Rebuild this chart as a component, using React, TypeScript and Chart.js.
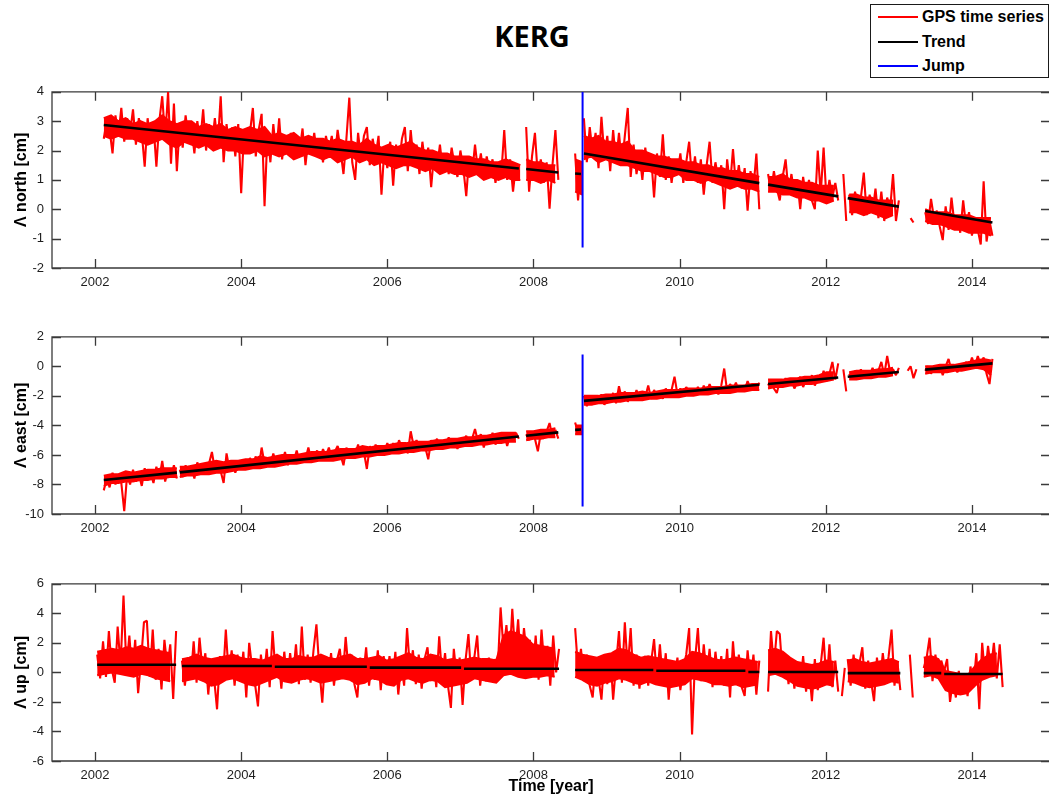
import React, { useEffect, useRef } from "react";
import { Chart, registerables } from "chart.js";

Chart.register(...registerables);

// ---------- shared axis values ----------
const STEP = 0.04; // sampling step of the series (years)
const BAND_STEP = 0.1; // sampling step of the dense-band envelope (years)
const X_MIN = 2001.4116;
const X_MAX = 2015.068;
const X_TICKS = [2002, 2004, 2006, 2008, 2010, 2012, 2014];

// ---------- North component [cm] ----------
const NORTH_2002 = [
  2.4, 3.0, 2.7, 1.9, 3.2, 2.5, 3.45, 2.3, 3.1, 2.6, 3.4, 2.2, 3.1,
  2.6, 1.45, 3.1, 2.3, 2.9, 1.45, 3.0, 3.85, 2.4, 4.0, 1.55, 3.6, 1.3,
  2.9, 2.1, 3.2, 2.4, 2.8, 1.9, 3.0, 2.3, 3.4, 2.0, 2.9, 2.2, 3.1,
  2.2, 3.85, 1.6, 2.9, 2.0, 2.8, 1.8, 2.9, 0.55, 2.7, 1.9, 2.6, 3.45,
  1.8, 2.7, 3.25, 0.1, 2.6, 1.6, 2.9, 1.9, 3.1, 1.7, 2.5, 2.0, 2.6,
  1.7, 2.5, 2.0, 2.75, 1.5, 2.4, 1.9, 2.6, 1.8, 2.3, 1.6, 2.5, 2.0,
  2.5, 1.7, 2.7, 2.0, 1.2, 2.4, 3.8, 1.6, 1.0, 2.6, 1.7, 2.5, 2.8,
  1.5, 2.4, 1.8, 2.5, 0.5, 2.1, 1.4, 2.3, 0.8, 2.2, 1.5, 2.4, 2.8,
  1.3, 2.7, 1.6, 2.2, 1.2, 2.3, 1.5, 2.1, 0.75, 1.9, 1.4, 2.2, 1.3,
  1.9, 1.2, 2.1, 1.5, 1.1, 2.0, 1.4, 0.45, 1.8, 1.2, 2.2, 1.3, 1.9,
  1.1, 1.8, 1.3, 1.7, 0.9, 1.6, 1.2, 2.7, 1.0, 1.7, 0.6, 1.5, 1.2,
];
const NORTH_2008A = [2.8, 0.6, 1.8, 2.6, 1.1, 1.7, 0.9, 1.6, 0.02, 1.5, 2.7, 1.0];
const NORTH_2008B = [1.9, 0.3, 1.5];
const NORTH_2008C = [
  3.1, 1.6, 2.8, 1.9, 2.6, 1.4, 3.15, 1.8, 2.5, 1.3, 2.7, 1.6, 2.6,
  1.5, 2.5, 3.45, 1.1, 2.2, 1.2, 1.9, 1.0, 2.1, 1.3, 1.8, 0.4, 1.9,
  1.1, 2.55, 1.0, 1.8, 0.9, 1.7, 1.2, 1.9, 0.9, 1.6, 2.3, 1.0, 1.8,
  0.9, 1.7, 0.5, 1.5, 2.3, 0.9, 1.6, 1.0, 1.5, 0.0, 1.7, 0.8, 2.05,
  0.8, 1.5, 0.7, 1.4, -0.05, 1.3, 0.7, 1.9, 0.0,
];
const NORTH_2011 = [
  1.2, 0.6, 1.3, 0.7, 0.3, 1.1, 1.7, 0.6, 1.2, 0.5, 1.0, 0.0, 1.1,
  0.4, 1.0, 0.3, 0.0, 2.0, 0.5, 2.1, 0.3, 1.0, 0.4, 0.9, 0.3,
];
const NORTH_2012A = [1.2, -0.4];
const NORTH_2012B = [0.5, -0.2, 0.6, 0.0, 0.4, 1.25, -0.2, 0.5, -0.1, 0.7, -0.3, 0.6, -0.4, 0.4, 0.0, 1.2, -0.4, 0.3];
const NORTH_2013A = [-0.3, -0.45];
const NORTH_2013B = [
  -0.1, -0.5, 0.35, -0.3, -0.05, -0.6, -1.05, 0.1, -0.7, 0.4, -0.5, -0.2,
  -0.8, 0.3, -0.6, -0.1, -0.9, -0.3, -0.7, -1.2, 0.95, -1.1, -0.4, -0.9,
];
const NORTH_STARTS = [2002.12, 2007.9, 2008.57, 2008.69, 2011.21, 2012.24, 2012.32, 2013.16, 2013.36];
const NORTH_VALUES = [NORTH_2002, NORTH_2008A, NORTH_2008B, NORTH_2008C, NORTH_2011, NORTH_2012A, NORTH_2012B, NORTH_2013A, NORTH_2013B];
// dense core of the daily band (upper / lower edge)
const NORTH_BAND_STARTS = [2002.12, 2007.9, 2008.57, 2008.69, 2011.21, 2012.32, 2013.36];
const NORTH_BAND_HI = [
  [3.1, 3.2, 3.0, 3.1, 2.9, 3.0, 2.9, 3.0, 3.2, 3.0,
   2.9, 3.0, 3.0, 2.8, 2.9, 2.8, 2.9, 2.7, 2.8, 2.7,
   2.8, 2.7, 2.8, 2.5, 2.6, 2.5, 2.6, 2.4, 2.5, 2.4,
   2.4, 2.3, 2.4, 2.3, 2.3, 2.2, 2.4, 2.2, 2.1, 2.2,
   2.1, 2.2, 2.3, 2.1, 2.0, 2.0, 1.9, 1.9, 1.8, 1.8,
   1.8, 1.7, 1.7, 1.6, 1.6, 1.7, 1.6, 1.5],
  [1.7, 1.6, 1.6, 1.5, 1.5],
  [1.7, 1.6],
  [2.5, 2.4, 2.5, 2.3, 2.3, 2.2, 2.3, 2.0, 2.0, 1.9, 1.8, 1.8, 1.7, 1.7, 1.6,
   1.6, 1.5, 1.5, 1.4, 1.4, 1.3, 1.3, 1.2, 1.2, 1.1],
  [1.1, 1.1, 1.2, 1.0, 1.0, 0.9, 0.9, 0.8, 0.8, 0.8],
  [0.5, 0.5, 0.4, 0.4, 0.3, 0.3, 0.3],
  [0.0, -0.1, -0.1, -0.1, -0.2, -0.2, -0.2, -0.3, -0.3, -0.3],
];
const NORTH_BAND_LO = [
  [2.5, 2.4, 2.5, 2.4, 2.4, 2.3, 2.2, 2.3, 2.4, 2.2,
   2.1, 2.3, 2.2, 2.1, 2.2, 2.0, 2.1, 2.0, 2.0, 1.9,
   1.9, 2.0, 1.8, 1.9, 1.8, 1.9, 1.7, 1.8, 1.9, 1.8,
   1.7, 1.8, 1.6, 1.7, 1.8, 1.6, 1.7, 1.5, 1.6, 1.5,
   1.4, 1.5, 1.5, 1.4, 1.3, 1.4, 1.2, 1.3, 1.2, 1.2,
   1.1, 1.2, 1.0, 1.1, 1.0, 1.1, 1.0, 1.0],
  [1.0, 1.0, 0.9, 1.0, 0.9],
  [0.6, 0.5],
  [1.7, 1.8, 1.6, 1.7, 1.6, 1.5, 1.5, 1.4, 1.3, 1.3, 1.2, 1.1, 1.1, 1.2, 1.0,
   1.0, 0.9, 1.0, 0.9, 0.8, 0.7, 0.8, 0.7, 0.7, 0.6],
  [0.6, 0.6, 0.5, 0.5, 0.4, 0.4, 0.3, 0.3, 0.2, 0.3],
  [-0.1, -0.1, -0.2, -0.1, -0.2, -0.3, -0.2],
  [-0.4, -0.5, -0.5, -0.6, -0.7, -0.7, -0.8, -0.8, -0.8, -0.9],
];
// trend segments: [x0, y0, x1, y1]
const NORTH_TREND = [
  [2002.12, 2.87, 2007.8, 1.39],
  [2007.9, 1.37, 2008.34, 1.25],
  [2008.57, 1.22, 2008.65, 1.2],
  [2008.69, 1.9, 2011.09, 0.89],
  [2011.21, 0.84, 2012.17, 0.44],
  [2012.3, 0.38, 2013.0, 0.09],
  [2013.36, -0.06, 2014.28, -0.45],
];
const NORTH_JUMP = [2008.672, -1.3, 4.0];

// ---------- East component [cm] ----------
const EAST_2002 = [
  -8.4, -7.6, -8.2, -7.2, -8.0, -7.4, -7.9, -9.8, -7.3, -8.0, -7.0, -7.8, -7.3,
  -8.1, -6.9, -7.7, -7.2, -7.9, -6.8, -7.6, -6.4, -7.8, -7.0, -7.5, -6.7, -7.6,
];
const EAST_2003 = [
  -7.0, -7.5, -6.7, -7.4, -6.8, -7.6, -6.5, -7.3, -6.9, -7.2, -6.6, -5.8, -7.0,
  -6.6, -7.1, -7.9, -5.9, -7.0, -6.5, -7.2, -6.6, -6.9,
  -6.4, -7.0, -6.2, -6.8, -6.1, -6.9, -5.5, -6.6, -6.2, -6.7, -5.9, -6.6, -6.1,
  -6.5, -5.8, -6.7, -6.0, -6.4, -5.7, -6.5, -6.0, -6.3, -5.5, -6.4, -6.0,
  -5.7, -6.3, -5.6, -6.1, -5.5, -6.2, -5.8, -5.4, -6.0, -6.7, -5.5, -6.1, -5.6,
  -6.0, -5.3, -6.1, -5.8, -6.95, -5.4, -6.0, -5.3, -5.9, -5.5, -5.9, -5.2,
  -5.7, -5.2, -5.8, -5.0, -5.5, -5.2, -5.9, -4.4, -5.4, -5.0, -5.6, -5.1, -5.5,
  -6.3, -5.0, -5.5, -4.9, -5.6, -5.1, -5.4, -4.8, -5.5, -5.0, -5.6, -4.9,
  -5.2, -4.7, -5.4, -4.9, -4.25, -5.1, -4.6, -5.5, -4.8, -5.2, -4.5, -5.3, -4.7,
  -5.0, -4.6, -5.4, -4.7, -5.1, -4.5, -4.9,
];
const EAST_2008A = [-4.6, -5.0, -4.4, -4.9, -5.76, -4.5, -4.9, -4.4, -3.84, -4.8, -4.3, -4.9];
const EAST_2008B = [-3.8, -4.5, -4.1];
const EAST_2008C = [
  -2.0, -2.7, -2.2, -2.6, -2.1, -2.5, -1.9, -2.6, -2.2, -2.4, -1.8, -2.5, -1.35,
  -2.3, -1.7, -2.4, -1.9, -2.2, -1.6, -2.3, -1.8, -2.1, -1.3, -2.2, -1.6, -2.0,
  -1.7, -2.2, -1.5, -2.0, -1.6, -0.7, -1.9, -1.5, -2.0, -1.4, -1.8, -1.5, -1.9,
  -1.4, -1.9, -1.3, -1.8, -1.2, -1.7, -1.4, -1.9, -1.3, -0.15, -1.7, -1.2, -1.6,
  -1.1, -1.7, -1.3, -1.6, -1.0, -1.5, -1.2, -1.6, -1.1,
];
const EAST_2011 = [
  -1.3, -0.9, -1.5, -1.8, -1.0, -1.4, -0.8, -1.3, -0.9, -1.5, -1.1, -0.7, -1.4,
  -0.9, -1.2, -0.6, -1.3, -0.8, -1.1, -0.3, -1.0, -0.5, 0.3, -0.9, 0.2,
];
const EAST_2012A = [-0.2, -1.7];
const EAST_2012B = [-0.5, -0.9, -0.3, -0.7, -0.2, -0.8, -0.4, -0.6, -0.1, -0.7, -0.3, 0.3, -0.6, 0.7, -0.4, -0.2, -0.6, -0.1];
const EAST_2013A = [-0.3, 0.0, -0.8, -0.2];
const EAST_2013B = [
  -0.3, 0.0, -0.5, -0.1, -0.4, 0.1, -0.6, 0.0, 0.5, -0.3, 0.1, -0.4,
  0.0, -0.2, 0.3, -0.1, 0.6, 0.0, 0.7, 0.1, 0.6, -0.5, -1.2, 0.5,
];
const EAST_STARTS = [2002.12, 2003.16, 2007.9, 2008.57, 2008.69, 2011.21, 2012.24, 2012.32, 2013.12, 2013.36];
const EAST_VALUES = [EAST_2002, EAST_2003, EAST_2008A, EAST_2008B, EAST_2008C, EAST_2011, EAST_2012A, EAST_2012B, EAST_2013A, EAST_2013B];
const EAST_BAND_STARTS = [2002.12, 2003.16, 2007.9, 2008.57, 2008.69, 2011.21, 2012.32, 2013.36];
const EAST_BAND_HI = [
  [-7.4, -7.3, -7.3, -7.1, -7.2, -7.1, -7.0, -7.0, -6.9, -6.9, -6.9],
  [-6.8, -6.8, -6.7, -6.6, -6.5, -6.4, -6.5, -6.4, -6.4, -6.3,
   -6.3, -6.1, -6.2, -6.1, -6.0, -6.0, -6.0, -5.9, -5.8, -5.8,
   -5.8, -5.7, -5.6, -5.6, -5.6, -5.4, -5.5, -5.4, -5.4, -5.3,
   -5.2, -5.2, -5.1, -5.1, -5.1, -5.0, -5.0, -4.9, -4.9, -4.8,
   -4.8, -4.7, -4.7, -4.6, -4.5, -4.5, -4.5],
  [-4.4, -4.4, -4.3, -4.3, -4.2],
  [-4.0, -4.0],
  [-2.0, -2.0, -2.0, -1.9, -1.9, -1.8, -1.8, -1.8, -1.7, -1.8, -1.7, -1.6, -1.6,
   -1.6, -1.5, -1.5, -1.5, -1.4, -1.4, -1.4, -1.3, -1.3, -1.3, -1.2, -1.2],
  [-0.9, -0.9, -0.9, -0.8, -0.8, -0.7, -0.7, -0.6, -0.4, -0.4],
  [-0.4, -0.3, -0.3, -0.3, -0.2, -0.2, -0.1],
  [0.0, 0.0, 0.1, 0.1, 0.1, 0.2, 0.3, 0.4, 0.5, 0.4],
];
const EAST_BAND_LO = [
  [-8.1, -7.9, -7.9, -7.8, -7.8, -7.7, -7.7, -7.6, -7.6, -7.5, -7.5],
  [-7.5, -7.4, -7.4, -7.3, -7.3, -7.2, -7.2, -7.1, -7.0, -7.0,
   -6.9, -6.9, -6.8, -6.8, -6.7, -6.6, -6.6, -6.5, -6.5, -6.4,
   -6.4, -6.4, -6.3, -6.2, -6.2, -6.1, -6.1, -6.0, -6.0, -5.9,
   -5.9, -5.8, -5.8, -5.7, -5.7, -5.6, -5.6, -5.5, -5.5, -5.4,
   -5.4, -5.3, -5.3, -5.2, -5.2, -5.1, -5.1],
  [-5.0, -4.9, -4.9, -4.8, -4.8],
  [-4.6, -4.6],
  [-2.6, -2.6, -2.5, -2.5, -2.4, -2.4, -2.3, -2.3, -2.3, -2.2, -2.2, -2.1, -2.1,
   -2.1, -2.0, -2.0, -1.9, -1.9, -1.8, -1.8, -1.8, -1.7, -1.7, -1.6, -1.6],
  [-1.5, -1.4, -1.4, -1.3, -1.3, -1.2, -1.2, -1.1, -1.0, -0.9],
  [-0.9, -0.9, -0.8, -0.8, -0.7, -0.7, -0.6],
  [-0.5, -0.4, -0.4, -0.4, -0.3, -0.3, -0.2, -0.1, -0.2, -0.6],
];
const EAST_TREND = [
  [2002.12, -7.7, 2003.12, -7.2],
  [2003.16, -7.18, 2007.8, -4.75],
  [2007.9, -4.7, 2008.34, -4.47],
  [2008.57, -4.3, 2008.65, -4.28],
  [2008.69, -2.34, 2011.09, -1.25],
  [2011.21, -1.2, 2012.17, -0.76],
  [2012.3, -0.7, 2013.0, -0.38],
  [2013.36, -0.22, 2014.28, 0.2],
];
const EAST_JUMP = [2008.672, -9.5, 0.8];

// ---------- Up component [cm] ----------
const UP_2002 = [
  1.2, -0.4, 2.1, -0.3, 2.8, 0.2, -0.7, 3.1, 0.4, 5.2, 0.3, 2.5, -0.2, 2.2,
  -1.4, 0.8, 3.4, 3.5, -0.3, 2.9, -0.5, 1.6, -1.15, 2.2, 0.3, 1.9, -1.8, 2.8,
];
const UP_2003 = [
  0.8, -0.9, 1.0, -0.5, 2.1, -0.7, 2.35, 0.2, 1.3, -1.5, 0.9, -0.4, -2.5, 1.1,
  -0.6, 2.9, -0.2, 1.5, -0.9, 1.2, -0.5, 1.4,
  -1.7, 2.0, 0.3, -0.8, -2.3, 1.2, -0.5, 1.6, -1.0, 2.8, 0.0, 1.1, -1.1, 1.4,
  -0.6, 1.3, -0.3, 1.9, -0.8, 3.1, -0.5, 1.2, -0.7, 1.5,
  3.25, 0.2, -2.05, 1.0, -0.6, 1.3, -0.9, 0.8, 1.6, -0.4, 2.4, 0.1, 1.2, -0.8,
  -1.7, 1.0, -0.3, 1.7, -0.9, 0.9, -0.5, 1.5, -1.2, 1.1, -0.4,
  1.1, -0.7, 1.4, -1.5, 0.6, -0.9, 3.0, 0.2, 1.5, -0.8, 1.2, -1.1, 0.9, 1.7,
  -0.6, 1.0, -1.0, 2.45, -0.3, 1.3, -0.9, -2.4, 1.6, -0.4, 1.0,
  -2.2, 0.8, 2.6, -0.5, 1.0, 2.5, -0.9, 0.7, -0.6, 1.0, -0.4, 0.9, 0.1, 4.4,
  1.5, 3.2, 0.6, 4.3, 1.2, 3.6, 0.3, 3.0, 1.0, 2.2, -0.2,
  2.5, -0.5, 2.9, 0.3, 1.8, -0.9, 2.5, 0.0, 1.6,
];
const UP_2008 = [
  3.0, 0.2, 1.6, -0.6, 1.2, -0.9, -1.7, 0.8, -0.4, -1.85, 1.0,
  -0.8, 1.3, -1.85, 0.5, 2.8, -0.7, 3.4, 0.2, 3.0, -0.9, 1.2, -1.1, 0.9,
  1.1, -0.9, 0.7, 2.25, -0.5, 1.9, -0.7, 1.3, -1.85, 0.6, -0.4, 1.0, -1.2,
  0.3, 1.2, 3.0, -4.2, 0.8, 3.0, -0.6, 1.9, -0.3, 1.6, -1.0, 1.4, -0.4,
  1.1, -0.9, 1.6, -1.7, 2.1, -0.5, 1.2, -1.0, -1.6, 1.5, -0.6, 1.2, -1.5, 0.8,
];
const UP_2011 = [
  -1.3, 2.8, 0.4, 2.8, 2.6, -0.2, 1.2, -0.8, 0.9, -1.1, 0.6, -0.9, 1.1,
  -1.3, 0.3, -1.95, 0.9, -1.2, 0.5, 2.35, -0.8, 1.9, -1.0, 0.8, -1.3,
];
const UP_2012A = [-1.6, 0.3];
const UP_2012B = [0.9, -0.9, 1.2, -0.5, 0.6, 1.7, -1.1, 0.8, -0.6, -1.95, 1.0, -0.8, 1.3, -0.4, 1.1, 2.9, -0.9, 0.7, -1.2];
const UP_2013A = [1.2, -1.7];
const UP_2013B = [
  0.3, 1.0, 2.35, -0.6, 1.2, -0.3, 0.8, 0.1, 0.9, -2.0, -0.5, -1.7, 0.1, -1.4,
  -0.2, -1.6, 0.4, -1.0, 1.3, -2.5, 2.0, -0.3, 1.8, 0.2, 2.0, -0.4, 1.9, -1.0,
];
const UP_STARTS = [2002.03, 2003.19, 2008.57, 2011.21, 2012.22, 2012.3, 2013.15, 2013.34];
const UP_VALUES = [UP_2002, UP_2003, UP_2008, UP_2011, UP_2012A, UP_2012B, UP_2013A, UP_2013B];
const UP_BAND_STARTS = [2002.03, 2003.19, 2008.57, 2011.21, 2012.3, 2013.34];
const UP_BAND_HI = [
  [1.4, 1.5, 1.6, 1.5, 1.7, 1.6, 1.8, 1.6, 1.5, 1.4, 1.3],
  [0.9, 1.0, 1.2, 1.0, 0.9, 1.0, 1.1, 1.2, 1.0, 0.9,
   0.9, 0.8, 1.0, 1.2, 0.9, 0.9, 1.1, 1.0, 1.0, 1.2,
   1.0, 0.9, 1.1, 1.2, 0.9, 0.9, 1.0, 1.1, 0.8, 0.9,
   1.1, 1.3, 1.0, 0.9, 1.2, 1.1, 0.8, 0.9, 0.8, 0.9,
   1.0, 0.9, 0.9, 0.8, 2.5, 2.8, 2.6, 2.4, 1.9, 1.8,
   1.7, 1.6],
  [1.4, 1.2, 1.1, 1.0, 1.2, 1.3, 1.6, 1.5, 1.2, 1.0,
   1.1, 1.0, 0.9, 0.8, 0.7, 0.9, 1.4, 1.3, 1.1, 0.9,
   0.8, 0.9, 1.0, 0.9, 0.8, 0.7],
  [1.5, 1.6, 1.4, 1.0, 0.7, 0.6, 0.5, 0.6, 0.8, 0.7],
  [0.8, 0.9, 0.7, 0.6, 0.7, 0.8, 0.9, 0.7],
  [1.0, 1.1, 0.9, 0.1, 0.0, -0.1, -0.2, 0.4, 0.9, 1.2, 1.3],
];
const UP_BAND_LO = [
  [-0.2, -0.1, 0.0, -0.1, -0.2, -0.3, -0.1, -0.2, -0.4, -0.5, -0.6],
  [-0.6, -0.5, -0.4, -0.6, -0.9, -0.8, -0.5, -0.4, -0.6, -0.8,
   -0.9, -0.7, -0.5, -0.3, -0.6, -0.7, -0.5, -0.4, -0.5, -0.7,
   -0.6, -0.5, -0.4, -0.5, -0.8, -0.7, -0.4, -0.5, -0.8, -0.9,
   -0.5, -0.4, -0.6, -0.7, -0.5, -0.6, -1.0, -0.9, -0.8, -0.7,
   -0.4, -0.5, -0.6, -0.7, -0.2, -0.1, -0.3, -0.4, -0.3, -0.3,
   -0.2, -0.3],
  [-0.3, -0.5, -0.8, -0.9, -0.7, -0.6, -0.4, -0.5, -0.7, -0.8,
   -0.6, -0.8, -0.9, -1.0, -0.9, -0.8, -0.4, -0.5, -0.6, -0.8,
   -0.8, -0.9, -0.8, -1.0, -0.9, -0.8],
  [-0.2, -0.1, -0.3, -0.6, -0.9, -1.0, -1.1, -1.0, -0.8, -0.9],
  [-0.6, -0.7, -0.9, -1.0, -0.9, -0.8, -0.6, -0.7],
  [-0.3, -0.2, -0.4, -1.2, -1.4, -1.5, -1.4, -0.9, -0.5, -0.3, -0.2],
];
const UP_TREND = [
  [2002.03, 0.52, 2003.11, 0.52],
  [2003.19, 0.43, 2004.42, 0.43],
  [2004.46, 0.38, 2005.72, 0.38],
  [2005.76, 0.32, 2007.01, 0.32],
  [2007.05, 0.25, 2008.35, 0.25],
  [2008.57, 0.16, 2009.64, 0.16],
  [2009.68, 0.11, 2010.9, 0.11],
  [2010.94, 0.03, 2011.09, 0.03],
  [2011.21, 0.03, 2012.17, 0.03],
  [2012.3, -0.05, 2013.02, -0.05],
  [2013.34, -0.05, 2013.58, -0.05],
  [2013.62, -0.11, 2014.42, -0.11],
];

// ---------- styling ----------
const AXIS_COLOR = "#3a3a3a";
const TEXT_COLOR = "#1e1e1e";
const RED = "rgb(255,0,0)";
const TICK_FONT = { family: "'Liberation Sans', Arial, sans-serif", size: 13 };
const LABEL_FONT = { family: "'Liberation Sans', Arial, sans-serif", size: 16, weight: "bold" as const };
const CANVAS_W = 1060;

type Pt = { x: number; y: number | null };

function buildSeries(starts: number[], values: number[][], step: number): Pt[] {
  const pts: Pt[] = [];
  starts.forEach((s, k) => {
    const vals = values[k];
    vals.forEach((v, i) => pts.push({ x: s + i * step, y: v }));
    pts.push({ x: s + (vals.length - 0.5) * step, y: null });
  });
  return pts;
}

function buildTrend(segs: number[][]): Pt[] {
  const pts: Pt[] = [];
  segs.forEach(([x0, y0, x1, y1]) => {
    pts.push({ x: x0, y: y0 }, { x: x1, y: y1 }, { x: x1 + 0.01, y: null });
  });
  return pts;
}

const boxPlugin = {
  id: "matlabBox",
  beforeDatasetsDraw(chart: any) {
    const { ctx, chartArea } = chart;
    const { left, right, top, bottom } = chartArea;
    const xs = chart.scales.x;
    const ys = chart.scales.y;
    const TL = 9;
    ctx.save();
    ctx.strokeStyle = AXIS_COLOR;
    ctx.lineWidth = 1.3;
    ctx.beginPath();
    ctx.rect(left, top, right - left, bottom - top);
    xs.ticks.forEach((t: any) => {
      const px = Math.round(xs.getPixelForValue(t.value)) + 0.5;
      ctx.moveTo(px, bottom);
      ctx.lineTo(px, bottom - TL);
      ctx.moveTo(px, top);
      ctx.lineTo(px, top + TL);
    });
    ys.ticks.forEach((t: any) => {
      const py = Math.round(ys.getPixelForValue(t.value)) + 0.5;
      ctx.moveTo(left, py);
      ctx.lineTo(left + TL, py);
      ctx.moveTo(right, py);
      ctx.lineTo(right - TL, py);
    });
    ctx.stroke();
    ctx.restore();
  },
};

type PanelProps = {
  top: number;
  plotHeight: number;
  xAxisHeight: number;
  yTitle: string;
  yMin: number;
  yMax: number;
  yStep: number;
  starts: number[];
  values: number[][];
  bandStarts: number[];
  bandHi: number[][];
  bandLo: number[][];
  trend: number[][];
  jump?: number[];
  xTitle?: string;
};

function Panel(p: PanelProps) {
  const ref = useRef<HTMLCanvasElement>(null);
  const PAD_TOP = 10;
  const canvasH = PAD_TOP + p.plotHeight + p.xAxisHeight;
  useEffect(() => {
    const datasets: any[] = [
      {
        label: "band upper",
        data: buildSeries(p.bandStarts, p.bandHi, BAND_STEP),
        borderColor: RED,
        borderWidth: 2,
        pointRadius: 0,
        spanGaps: false,
        fill: false,
        order: 5,
      },
      {
        label: "band lower",
        data: buildSeries(p.bandStarts, p.bandLo, BAND_STEP),
        borderColor: RED,
        backgroundColor: RED,
        borderWidth: 2,
        pointRadius: 0,
        spanGaps: false,
        fill: 0,
        order: 4,
      },
      {
        label: "GPS time series",
        data: buildSeries(p.starts, p.values, STEP),
        borderColor: RED,
        borderWidth: 2.1,
        pointRadius: 0,
        borderJoinStyle: "bevel",
        spanGaps: false,
        tension: 0,
        fill: false,
        order: 3,
      },
      {
        label: "Trend",
        data: buildTrend(p.trend),
        borderColor: "#000000",
        borderWidth: 2.6,
        pointRadius: 0,
        spanGaps: false,
        fill: false,
        order: 2,
      },
    ];
    if (p.jump) {
      datasets.push({
        label: "Jump",
        data: [
          { x: p.jump[0], y: p.jump[1] },
          { x: p.jump[0], y: p.jump[2] },
        ],
        borderColor: "rgb(0,0,255)",
        borderWidth: 2,
        pointRadius: 0,
        fill: false,
        order: 1,
      });
    }
    const chart = new Chart(ref.current as HTMLCanvasElement, {
      type: "line",
      data: { datasets },
      plugins: [boxPlugin],
      options: {
        animation: false,
        responsive: false,
        devicePixelRatio: 1,
        events: [],
        layout: { padding: { top: PAD_TOP, right: CANVAS_W - 1050, left: 0, bottom: 0 } },
        plugins: { legend: { display: false }, tooltip: { enabled: false }, filler: { propagate: false } },
        scales: {
          x: {
            type: "linear",
            min: X_MIN,
            max: X_MAX,
            offset: false,
            grid: { display: false, drawTicks: false, tickLength: 0 },
            border: { display: false },
            afterBuildTicks: (s: any) => {
              s.ticks = X_TICKS.map((v) => ({ value: v }));
            },
            afterFit: (s: any) => {
              s.height = p.xAxisHeight;
            },
            ticks: {
              font: TICK_FONT,
              color: TEXT_COLOR,
              padding: 7,
              maxRotation: 0,
              autoSkip: false,
              callback: (v: any) => String(v),
            },
            title: p.xTitle
              ? { display: true, text: p.xTitle, font: LABEL_FONT, color: "#000", padding: { top: 0, bottom: 0 } }
              : { display: false },
          },
          y: {
            type: "linear",
            min: p.yMin,
            max: p.yMax,
            grid: { display: false, drawTicks: false, tickLength: 0 },
            border: { display: false },
            afterFit: (s: any) => {
              s.width = 52;
            },
            ticks: {
              stepSize: p.yStep,
              font: TICK_FONT,
              color: TEXT_COLOR,
              padding: 8,
            },
            title: {
              display: true,
              text: p.yTitle,
              font: LABEL_FONT,
              color: "#000",
              padding: { top: 12, bottom: 0 },
            },
          },
        },
      } as any,
    });
    return () => chart.destroy();
  }, []);
  return (
    <canvas
      ref={ref}
      width={CANVAS_W}
      height={canvasH}
      style={{ position: "absolute", left: 0, top: p.top - PAD_TOP, width: CANVAS_W, height: canvasH }}
    />
  );
}

const LEGEND_ITEMS = [
  { label: "GPS time series", color: RED, y: 12 },
  { label: "Trend", color: "#000000", y: 37 },
  { label: "Jump", color: "rgb(0,0,255)", y: 61 },
];

export default function App() {
  return (
    <div
      style={{
        position: "absolute",
        left: 0,
        top: 0,
        width: 1049,
        height: 796,
        overflow: "hidden",
        background: "#fff",
      }}
    >
      <div
        style={{
          position: "absolute",
          left: 432,
          top: 16,
          width: 200,
          textAlign: "center",
          fontFamily: "'Open Sans', sans-serif",
          fontWeight: 700,
          fontSize: 29,
          lineHeight: "40px",
          color: "#000",
        }}
      >
        KERG
      </div>
      <Panel
        top={86}
        plotHeight={182}
        xAxisHeight={30}
        yTitle="Λ north [cm]"
        yMin={-2}
        yMax={4}
        yStep={1}
        starts={NORTH_STARTS}
        values={NORTH_VALUES}
        bandStarts={NORTH_BAND_STARTS}
        bandHi={NORTH_BAND_HI}
        bandLo={NORTH_BAND_LO}
        trend={NORTH_TREND}
        jump={NORTH_JUMP}
      />
      <Panel
        top={331}
        plotHeight={183}
        xAxisHeight={30}
        yTitle="Λ east [cm]"
        yMin={-10}
        yMax={2}
        yStep={2}
        starts={EAST_STARTS}
        values={EAST_VALUES}
        bandStarts={EAST_BAND_STARTS}
        bandHi={EAST_BAND_HI}
        bandLo={EAST_BAND_LO}
        trend={EAST_TREND}
        jump={EAST_JUMP}
      />
      <Panel
        top={578}
        plotHeight={183}
        xAxisHeight={35}
        yTitle="Λ up [cm]"
        yMin={-6}
        yMax={6}
        yStep={2}
        starts={UP_STARTS}
        values={UP_VALUES}
        bandStarts={UP_BAND_STARTS}
        bandHi={UP_BAND_HI}
        bandLo={UP_BAND_LO}
        trend={UP_TREND}
        xTitle="Time [year]"
      />
      <div
        style={{
          position: "absolute",
          left: 870,
          top: 4,
          width: 179,
          height: 74,
          boxSizing: "border-box",
          border: "1px solid #1a1a1a",
          background: "#fff",
        }}
      >
        {LEGEND_ITEMS.map((it) => (
          <div key={it.label}>
            <div
              style={{
                position: "absolute",
                left: 7,
                top: it.y - 1,
                width: 40,
                height: 2,
                background: it.color,
              }}
            />
            <div
              style={{
                position: "absolute",
                left: 51,
                top: it.y - 10,
                height: 20,
                lineHeight: "20px",
                fontFamily: "'Liberation Sans', Arial, sans-serif",
                fontWeight: 700,
                fontSize: 16,
                color: "#000",
                whiteSpace: "nowrap",
              }}
            >
              {it.label}
            </div>
          </div>
        ))}
      </div>
    </div>
  );
}
